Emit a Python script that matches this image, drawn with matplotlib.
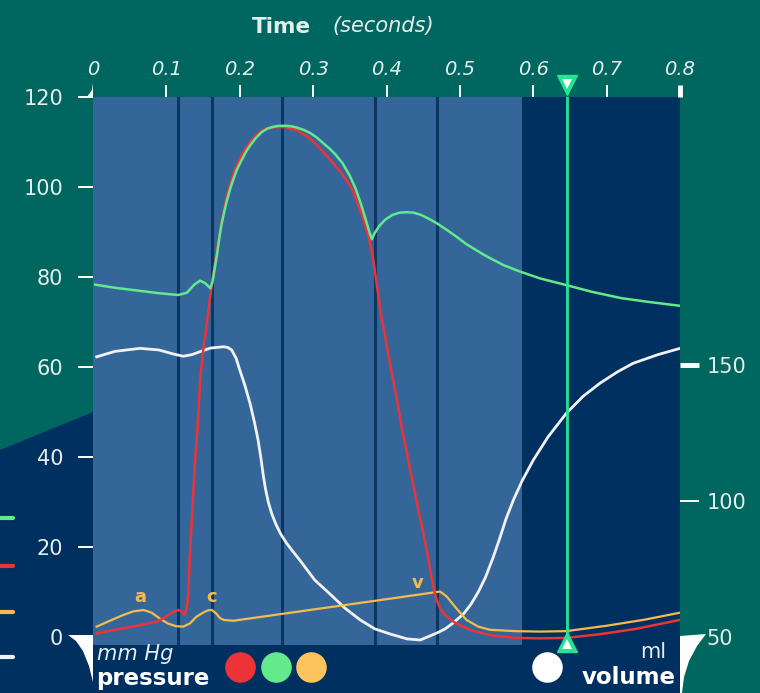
import numpy as np
import matplotlib.pyplot as plt
from matplotlib.lines import Line2D
from matplotlib.patches import Polygon

plt.rcParams['font.family'] = ['DejaVu Sans']

# ==============================================================
# data (time in s, pressure in mmHg, volume in ml)

aortic_t = [0.003, 0.03, 0.06, 0.09, 0.116, 0.128, 0.138, 0.146, 0.153, 0.160,
            0.163, 0.166, 0.169, 0.172, 0.175, 0.179, 0.183, 0.187, 0.191, 0.196,
            0.202, 0.208, 0.214, 0.222, 0.230, 0.238, 0.246, 0.254, 0.262, 0.270,
            0.278, 0.287, 0.296, 0.305, 0.314, 0.322, 0.330, 0.340, 0.350, 0.358,
            0.365, 0.372, 0.377, 0.380, 0.384, 0.390, 0.398, 0.408, 0.418, 0.427,
            0.437, 0.447, 0.457, 0.468, 0.481, 0.495, 0.508, 0.520, 0.531, 0.541,
            0.560, 0.582, 0.609, 0.645, 0.680, 0.720, 0.760, 0.800]
aortic_p = [78.3, 77.6, 77.0, 76.4, 76.0, 76.5, 78.3, 79.2, 78.6, 77.5,
            79.0, 82.0, 85.0, 88.5, 91.5, 94.6, 97.3, 99.6, 101.6, 103.8,
            105.8, 107.7, 109.2, 110.9, 112.2, 113.0, 113.4, 113.6, 113.6, 113.5,
            113.2, 112.7, 112.0, 111.0, 109.7, 108.6, 107.3, 105.3, 102.5, 99.6,
            96.3, 92.6, 89.8, 88.4, 89.8, 91.3, 92.7, 93.8, 94.3, 94.4,
            94.3, 93.8, 93.0, 92.0, 90.6, 89.0, 87.4, 86.2, 85.1, 84.2,
            82.6, 81.2, 79.7, 78.2, 76.7, 75.3, 74.4, 73.6]

lv_t = [0.005, 0.03, 0.06, 0.087, 0.100, 0.109, 0.116, 0.121, 0.125, 0.128,
        0.130, 0.132, 0.136, 0.139, 0.143, 0.146, 0.150, 0.154, 0.158, 0.162,
        0.168, 0.175, 0.183, 0.191, 0.202, 0.214, 0.230, 0.246, 0.262, 0.278,
        0.296, 0.314, 0.330, 0.340, 0.346, 0.353, 0.359, 0.366, 0.373, 0.378,
        0.382, 0.387, 0.393, 0.399, 0.405, 0.411, 0.416, 0.421, 0.427, 0.434,
        0.441, 0.448, 0.455, 0.460, 0.464, 0.468, 0.473, 0.480, 0.488, 0.495,
        0.515, 0.541, 0.575, 0.609, 0.645, 0.690, 0.740, 0.800]
lv_p = [0.8, 1.6, 2.5, 3.4, 4.5, 5.6, 6.0, 5.7, 4.9, 6.5,
        10.0, 18.0, 30.0, 38.6, 48.0, 57.0, 63.5, 68.2, 73.5, 78.5,
        85.0, 92.0, 98.3, 102.8, 107.0, 110.0, 112.6, 113.3, 113.3, 112.6,
        110.8, 107.8, 104.8, 102.8, 101.4, 99.5, 97.1, 94.0, 90.4, 87.2,
        83.8, 78.0, 71.2, 66.0, 60.5, 55.5, 51.0, 46.3, 41.6, 35.8,
        30.2, 24.7, 19.3, 14.6, 11.0, 8.4, 6.4, 4.8, 3.8, 3.0,
        1.5, 0.4, -0.2, -0.3, -0.2, 0.6, 1.8, 3.8]

atrial_t = [0.005, 0.02, 0.04, 0.055, 0.069, 0.080, 0.091, 0.102, 0.113, 0.123,
            0.132, 0.141, 0.150, 0.156, 0.162, 0.168, 0.173, 0.178, 0.191, 0.300,
            0.400, 0.473, 0.482, 0.495, 0.509, 0.525, 0.541, 0.575, 0.609, 0.645,
            0.700, 0.750, 0.800]
atrial_p = [2.3, 3.4, 4.8, 5.7, 6.0, 5.4, 4.1, 3.0, 2.4, 2.3,
            3.0, 4.5, 5.4, 5.9, 6.0, 5.2, 4.2, 3.8, 3.6, 6.1,
            8.4, 10.1, 9.0, 6.4, 3.8, 2.3, 1.6, 1.3, 1.2, 1.3,
            2.5, 3.8, 5.4]

volume_t = [0.005, 0.03, 0.064, 0.09, 0.110, 0.123, 0.135, 0.146, 0.160, 0.178,
            0.184, 0.189, 0.195, 0.200, 0.207, 0.214, 0.220, 0.225, 0.229, 0.232,
            0.235, 0.239, 0.244, 0.250, 0.256, 0.263, 0.272, 0.282, 0.302, 0.323,
            0.343, 0.364, 0.384, 0.405, 0.428, 0.446, 0.469, 0.480, 0.490, 0.505,
            0.515, 0.525, 0.535, 0.545, 0.554, 0.563, 0.573, 0.585, 0.600, 0.620,
            0.645, 0.668, 0.691, 0.715, 0.736, 0.770, 0.800]
volume_ml = [153.0, 155.0, 156.1, 155.5, 154.0, 153.2, 153.8, 154.9, 156.2, 156.7,
             156.4, 155.5, 152.5, 148.2, 142.5, 135.9, 129.0, 122.4, 115.5, 109.5,
             104.5, 99.5, 95.0, 91.0, 87.8, 84.8, 81.6, 78.2, 71.0, 65.8,
             60.7, 56.3, 53.0, 51.1, 49.3, 48.9, 51.5, 53.0, 55.0, 58.5,
             62.0, 66.5, 72.0, 79.0, 86.0, 93.5, 100.4, 107.5, 115.0, 123.5,
             132.2, 138.5, 143.3, 147.5, 150.6, 153.8, 156.1]

phase_t = [0.116, 0.162, 0.2575, 0.384, 0.469]
systole_end = 0.585
cursor_t = 0.646

wave_labels = ['a', 'c', 'v']
wave_t = [0.064, 0.162, 0.443]
wave_p = [8.8, 8.8, 12.0]

time_ticks = [0, 0.1, 0.2, 0.3, 0.4, 0.5, 0.6, 0.7, 0.8]
time_labels = ['0', '0.1', '0.2', '0.3', '0.4', '0.5', '0.6', '0.7', '0.8']
pressure_ticks = [0, 20, 40, 60, 80, 100, 120]
volume_ticks = [50, 100, 150]

# ==============================================================
# colours

TEAL = '#006760'
NAVY = '#003060'
STEEL = '#356699'
PHASE = '#0A3764'
GREEN = '#62EA8C'
RED = '#EE3338'
YELLOW = '#F5BC4C'
WHITE = '#F2F2F2'
CURSOR = '#22E592'
TXT = '#E4EEEC'

W, H = 760, 693


def fx(px):
    return px / W


def fy(py):
    return 1 - py / H


fig = plt.figure(figsize=(7.6, 6.93), dpi=100)
fig.patch.set_facecolor(TEAL)

# navy backdrop behind the lower left and bottom
fig.add_artist(Polygon([(fx(0), fy(450)), (fx(93), fy(412)), (fx(680), fy(172)),
                        (fx(680), fy(693)), (fx(0), fy(693))],
                       closed=True, transform=fig.transFigure,
                       facecolor=NAVY, edgecolor='none', zorder=0))

ax = fig.add_axes([fx(93), fy(645), fx(680) - fx(93), fy(97) - fy(645)])
ax.set_facecolor(NAVY)
ax.axvspan(0, systole_end, color=STEEL, lw=0, zorder=0)
for t in phase_t:
    ax.axvline(t, color=PHASE, lw=2.2, zorder=1)

ax.set_xlim(0, 0.8)
ax.set_ylim(-1.78, 120)
ax2 = ax.twinx()
ax2.set_ylim(47.06, 248.5)

for a in (ax, ax2):
    for s in a.spines.values():
        s.set_visible(False)

# curves
ax.plot(volume_t, volume_ml, color=WHITE, lw=2, zorder=2, transform=ax2.transData)
ax.plot(atrial_t, atrial_p, color=YELLOW, lw=1.6, zorder=3)
ax.plot(lv_t, lv_p, color=RED, lw=1.8, zorder=4)
ax.plot(aortic_t, aortic_p, color=GREEN, lw=1.8, zorder=5)

for lbl, t, p in zip(wave_labels, wave_t, wave_p):
    ax.text(t, p, lbl, color=YELLOW, fontsize=13, fontweight='bold',
            ha='center', va='center', zorder=6)

# cursor line with its two triangle handles
ax.axvline(cursor_t, color=CURSOR, lw=2, zorder=7)
ax.plot([cursor_t], [122.6], marker='v', markersize=15, color=CURSOR,
        clip_on=False, zorder=8)
ax.plot([cursor_t], [122.9], marker='v', markersize=7, color='white',
        markeredgewidth=0, clip_on=False, zorder=9)
ax.plot([cursor_t], [-1.2], marker='^', markersize=15, color=CURSOR,
        clip_on=False, zorder=8)
ax.plot([cursor_t], [-1.5], marker='^', markersize=7, color='white',
        markeredgewidth=0, clip_on=False, zorder=9)

# ticks
ax.xaxis.tick_top()
ax.set_xticks(time_ticks)
ax.set_xticklabels(time_labels)
ax.tick_params(axis='x', direction='out', length=9, width=1.4, color='white',
               pad=4, labelsize=14, labelcolor=TXT)
for lbl in ax.get_xticklabels():
    lbl.set_style('italic')
xt = ax.xaxis.get_major_ticks()
xt[0].tick2line.set_visible(False)
xt[-1].tick2line.set_markeredgewidth(3.5)

ax.set_yticks(pressure_ticks)
ax.tick_params(axis='y', direction='out', length=10.5, width=1.4, color='white',
               pad=11, labelsize=15, labelcolor=TXT)

ax2.set_yticks(volume_ticks)
ax2.tick_params(axis='y', direction='out', length=14, width=1.4, color='white',
                pad=5, labelsize=15, labelcolor=TXT)
ax2.yaxis.get_major_ticks()[2].tick2line.set_markeredgewidth(3.5)

# white corner flags
fig.add_artist(Polygon([(fx(87), fy(97)), (fx(92), fy(90)), (fx(93), fy(83)),
                        (fx(93), fy(97))], closed=True, transform=fig.transFigure,
                       facecolor='white', edgecolor='none', zorder=10))
fig.add_artist(Polygon([(fx(68), fy(635)), (fx(93), fy(635)), (fx(93), fy(682)),
                        (fx(89), fy(666)), (fx(83), fy(651)), (fx(76), fy(641))],
                       closed=True, transform=fig.transFigure,
                       facecolor='white', edgecolor='none', zorder=10))
fig.add_artist(Polygon([(fx(680), fy(636)), (fx(706), fy(634)), (fx(697), fy(646)),
                        (fx(689), fy(661)), (fx(684), fy(677)), (fx(682), fy(693)),
                        (fx(680), fy(693))], closed=True, transform=fig.transFigure,
                       facecolor='white', edgecolor='none', zorder=10))

# legend dashes on the left edge
for col, py in zip([GREEN, RED, YELLOW, WHITE], [518, 566, 612, 657]):
    fig.add_artist(Line2D([fx(0), fx(13)], [fy(py), fy(py)], color=col, lw=3,
                          transform=fig.transFigure, solid_capstyle='round'))

# axis title
fig.text(fx(252), fy(27), 'Time', color=TXT, fontsize=15.5, fontweight='bold',
         ha='left', va='center')
fig.text(fx(332), fy(26), '(seconds)', color=TXT, fontsize=15, style='italic',
         ha='left', va='center')

# bottom captions
fig.text(fx(97), fy(654), 'mm Hg', color=TXT, fontsize=15, style='italic',
         ha='left', va='center')
fig.text(fx(96), fy(678), 'pressure', color='white', fontsize=16.5,
         fontweight='bold', ha='left', va='center')
for col, px in zip([RED, GREEN, '#FCC45C'], [240, 276, 311]):
    fig.add_artist(Line2D([fx(px)], [fy(667)], marker='o', markersize=22,
                          color=col, markeredgewidth=0, transform=fig.transFigure))
fig.add_artist(Line2D([fx(547)], [fy(667)], marker='o', markersize=22,
                      color='white', markeredgewidth=0, transform=fig.transFigure))
fig.text(fx(666), fy(652), 'ml', color=TXT, fontsize=15, ha='right', va='center')
fig.text(fx(676), fy(678), 'volume', color='white', fontsize=16.5,
         fontweight='bold', ha='right', va='center')

fig.savefig('out.png', dpi=100, facecolor=TEAL)
